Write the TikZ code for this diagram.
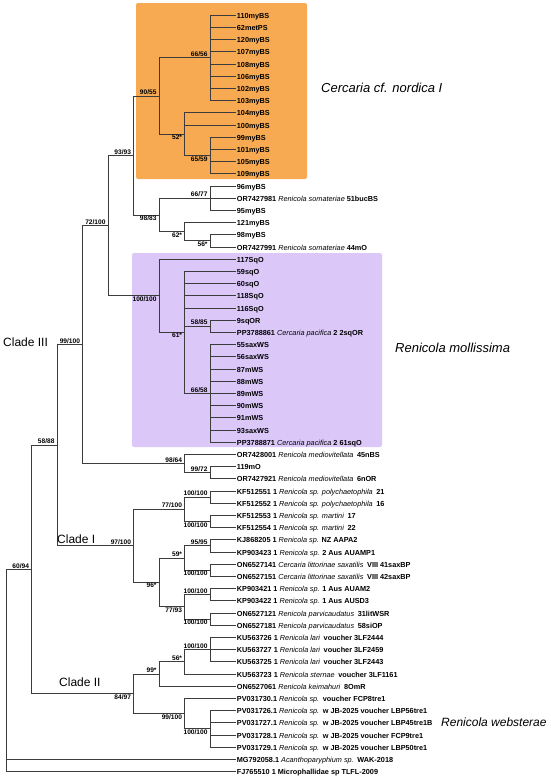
\documentclass[tikz,border=0pt]{standalone}
\usepackage{fontspec}
\setmainfont{Liberation Sans}
\usepackage{tikz}
\usetikzlibrary{positioning}
\usepackage{xcolor}

\definecolor{boxorange}{RGB}{247,170,82}
\definecolor{boxlilac}{RGB}{219,200,249}
\definecolor{treegray}{RGB}{60,60,60}
\newcommand{\spn}[1]{{\mdseries\itshape #1}}
\newcommand{\gap}{\hspace{0.5em}}

\tikzset{
	branch/.style={draw=treegray, line width=0.6pt},
	leaf/.style={anchor=west, inner sep=1.2pt, text height=1.45ex, text depth=0.2ex, font=\fontsize{7.3}{8}\selectfont\bfseries},
	sup/.style={inner sep=0.8pt, xshift=-1.5pt, font=\fontsize{6.6}{7}\selectfont\bfseries},
	supa/.style={sup, anchor=south east},
	supb/.style={sup, anchor=north east},
	clade/.style={anchor=west, inner sep=0pt, font=\fontsize{12}{14}\selectfont},
	group/.style={anchor=west, inner sep=0pt, font=\fontsize{13}{15}\selectfont\itshape}
}

\begin{document}
\begin{tikzpicture}[x=1pt, y=-1pt]
	\useasboundingbox (0,0) rectangle (550,780);
	% shaded groups
	\fill[boxorange, rounded corners=2pt] (136,3) rectangle (307,179);
	\fill[boxlilac, rounded corners=2pt] (132,253) rectangle (382,447);

	% leaves, one row every 12.2
	\foreach \txt [count=\i] in {110myBS, 62metPS, 120myBS, 107myBS, 108myBS, 106myBS, 102myBS, 103myBS,
		104myBS, 100myBS, 99myBS, 101myBS, 105myBS, 109myBS,
		96myBS, OR7427981 \spn{Renicola somateriae} 51bucBS, 95myBS, 121myBS, 98myBS,
		OR7427991 \spn{Renicola somateriae} 44mO,
		117SqO, 59sqO, 60sqO, 118SqO, 116SqO, 9sqOR, PP3788861 \spn{Cercaria pacifica} 2 2sqOR,
		55saxWS, 56saxWS, 87mWS, 88mWS, 89mWS, 90mWS, 91mWS, 93saxWS,
		PP3788871 \spn{Cercaria pacifica} 2 61sqO,
		OR7428001 \spn{Renicola mediovitellata}\gap 45nBS, 119mO, OR7427921 \spn{Renicola mediovitellata}\gap 6nOR,
		KF512551 1 \spn{Renicola sp. polychaetophila}\gap 21, KF512552 1 \spn{Renicola sp. polychaetophila}\gap 16,
		KF512553 1 \spn{Renicola sp. martini}\gap 17, KF512554 1 \spn{Renicola sp. martini}\gap 22,
		KJ868205 1 \spn{Renicola sp.} NZ AAPA2, KP903423 1 \spn{Renicola sp.} 2 Aus AUAMP1,
		ON6527141 \spn{Cercaria littorinae saxatilis}\gap VIII 41saxBP, ON6527151 \spn{Cercaria littorinae saxatilis}\gap VIII 42saxBP,
		KP903421 1 \spn{Renicola sp.} 1 Aus AUAM2, KP903422 1 \spn{Renicola sp.} 1 Aus AUSD3,
		ON6527121 \spn{Renicola parvicaudatus}\gap 31litWSR, ON6527181 \spn{Renicola parvicaudatus}\gap 58siOP,
		KU563726 1 \spn{Renicola lari}\gap voucher 3LF2444, KU563727 1 \spn{Renicola lari}\gap voucher 3LF2459,
		KU563725 1 \spn{Renicola lari}\gap voucher 3LF2443, KU563723 1 \spn{Renicola sternae}\gap voucher 3LF1161,
		ON6527061 \spn{Renicola keimahuri}\gap 8OmR,
		PV031730.1 \spn{Renicola sp.}\gap voucher FCP8tre1,
		PV031726.1 \spn{Renicola sp.}\gap w JB-2025 voucher LBP56tre1,
		PV031727.1 \spn{Renicola sp.}\gap w JB-2025 voucher LBP45tre1B,
		PV031728.1 \spn{Renicola sp.}\gap w JB-2025 voucher FCP9tre1,
		PV031729.1 \spn{Renicola sp.}\gap w JB-2025 voucher LBP50tre1,
		MG792058.1 \spn{Acanthoparyphium sp.}\gap WAK-2018,
		FJ765510 1 Microphallidae sp TLFL-2009}
		\node[leaf] (l\i) at (235.5, {15+12.2*(\i-1)}) {\txt};

	% inner nodes: x by level, y halfway between outer children
	\coordinate (G) at (210,57.7);
	\coordinate (I) at (210,155.3);
	\coordinate (H) at (184.5,133.95);
	\coordinate (F) at (159,95.8);
	\coordinate (K) at (210,198);
	\coordinate (M) at (210,240.7);
	\coordinate (L) at (184.5,231.55);
	\coordinate (J) at (159,214.8);
	\coordinate (E) at (133.5,155.3);
	\coordinate (P) at (210,326.1);
	\coordinate (Q) at (210,393.2);
	\coordinate (O) at (184.5,332.2);
	\coordinate (N) at (159,295.6);
	\coordinate (D) at (108,225.45);
	\coordinate (S) at (210,472.5);
	\coordinate (R) at (184.5,463.35);
	\coordinate (C) at (82.5,344.4);
	\coordinate (W) at (210,496.9);
	\coordinate (X) at (210,521.3);
	\coordinate (U) at (184.5,509.1);
	\coordinate (Y1) at (210,545.7);
	\coordinate (Y2) at (210,570.1);
	\coordinate (Y) at (184.5,557.9);
	\coordinate (Z1) at (210,594.5);
	\coordinate (Z2) at (210,618.9);
	\coordinate (Z) at (184.5,606.7);
	\coordinate (V) at (159,582.3);
	\coordinate (T) at (133.5,545.7);
	\coordinate (B) at (57,445.05);
	\coordinate (AG) at (210,649.4);
	\coordinate (AF) at (184.5,661.6);
	\coordinate (AD) at (159,673.8);
	\coordinate (AH) at (210,728.7);
	\coordinate (AE) at (184.5,713.45);
	\coordinate (AC) at (133.5,693.6);
	\coordinate (A) at (31.5,569.3);
	\coordinate (root) at (6,670);

	% branches to leaves
	\foreach \k in {1,...,8} \draw[branch] (G) |- (l\k.west);
	\foreach \k in {11,...,14} \draw[branch] (I) |- (l\k.west);
	\foreach \k in {28,...,36} \draw[branch] (Q) |- (l\k.west);
	\foreach \k in {22,...,25} \draw[branch] (O) |- (l\k.west);
	\foreach \k in {58,...,61} \draw[branch] (AH) |- (l\k.west);
	\foreach \p/\k in {H/9, H/10, K/15, K/16, K/17, M/19, M/20, L/18, P/26, P/27, N/21,
		S/38, S/39, R/37, W/40, W/41, X/42, X/43, Y1/44, Y1/45, Y2/46, Y2/47,
		Z1/48, Z1/49, Z2/50, Z2/51, AG/52, AG/53, AG/54, AF/55, AD/56, AE/57, root/62, root/63}
		\draw[branch] (\p) |- (l\k.west);
	% branches between inner nodes
	\foreach \p/\c in {H/I, F/G, F/H, L/M, J/K, J/L, E/F, E/J, O/P, O/Q, N/O, D/E, D/N,
		R/S, C/D, C/R, U/W, U/X, Y/Y1, Y/Y2, Z/Z1, Z/Z2, V/Y, V/Z, T/U, T/V, B/C, B/T,
		AF/AG, AD/AF, AE/AH, AC/AD, AC/AE, A/B, A/AC, root/A}
		\draw[branch] (\p) |- (\c);

	% support values
	\node[supa] (sG) at (G) {66/56};
	\node[supb] (sI) at (I) {65/59};
	\node[supb] (sH) at (H) {52*};
	\node[supa] (sF) at (F) {90/55};
	\node[supa] (sE) at (E) {93/93};
	\node[supa] (sK) at (K) {66/77};
	\node[supb] (sM) at (M) {56*};
	\node[supb] (sL) at (L) {62*};
	\node[supb] (sJ) at (J) {98/83};
	\node[supa] (sD) at (D) {72/100};
	\node[supb] (sN) at (N) {100/100};
	\node[supb] (sO) at (O) {61*};
	\node[supa] (sP) at (P) {58/85};
	\node[supa] (sQ) at (Q) {66/58};
	\node[supa] (sC) at (C) {99/100};
	\node[supa] (sR) at (R) {98/64};
	\node[supa] (sS) at (S) {99/72};
	\node[supa] (sB) at (B) {58/88};
	\node[supa] (sW) at (W) {100/100};
	\node[supa] (sU) at (U) {77/100};
	\node[supb] (sX) at (X) {100/100};
	\node[supa] (sT) at (T) {97/100};
	\node[supa] (sY1) at (Y1) {95/95};
	\node[supa] (sY) at (Y) {59*};
	\node[supb] (sY2) at (Y2) {100/100};
	\node[supb] (sV) at (V) {96*};
	\node[supa] (sZ1) at (Z1) {100/100};
	\node[supb] (sZ) at (Z) {77/93};
	\node[supb] (sZ2) at (Z2) {100/100};
	\node[supa] (sAG) at (AG) {100/100};
	\node[supa] (sAF) at (AF) {56*};
	\node[supa] (sAD) at (AD) {99*};
	\node[supb] (sAE) at (AE) {99/100};
	\node[supb] (sAH) at (AH) {100/100};
	\node[supb] (sAC) at (AC) {84/97};
	\node[supa] (sA) at (A) {60/94};

	% clade and species names
	\node[clade] (cladeIII) at (3,342) {Clade III};
	\node[clade] (cladeI) at (57,539) {Clade I};
	\node[clade] (cladeII) at (59,682) {Clade II};
	\node[group] (nordica) at (321,88) {Cercaria cf. nordica I};
	\node[group] (mollissima) at (395,348) {Renicola mollissima};
	\node[group, font=\fontsize{12}{14}\selectfont\itshape] (websterae) at (441,722) {Renicola websterae};
\end{tikzpicture}
\end{document}
